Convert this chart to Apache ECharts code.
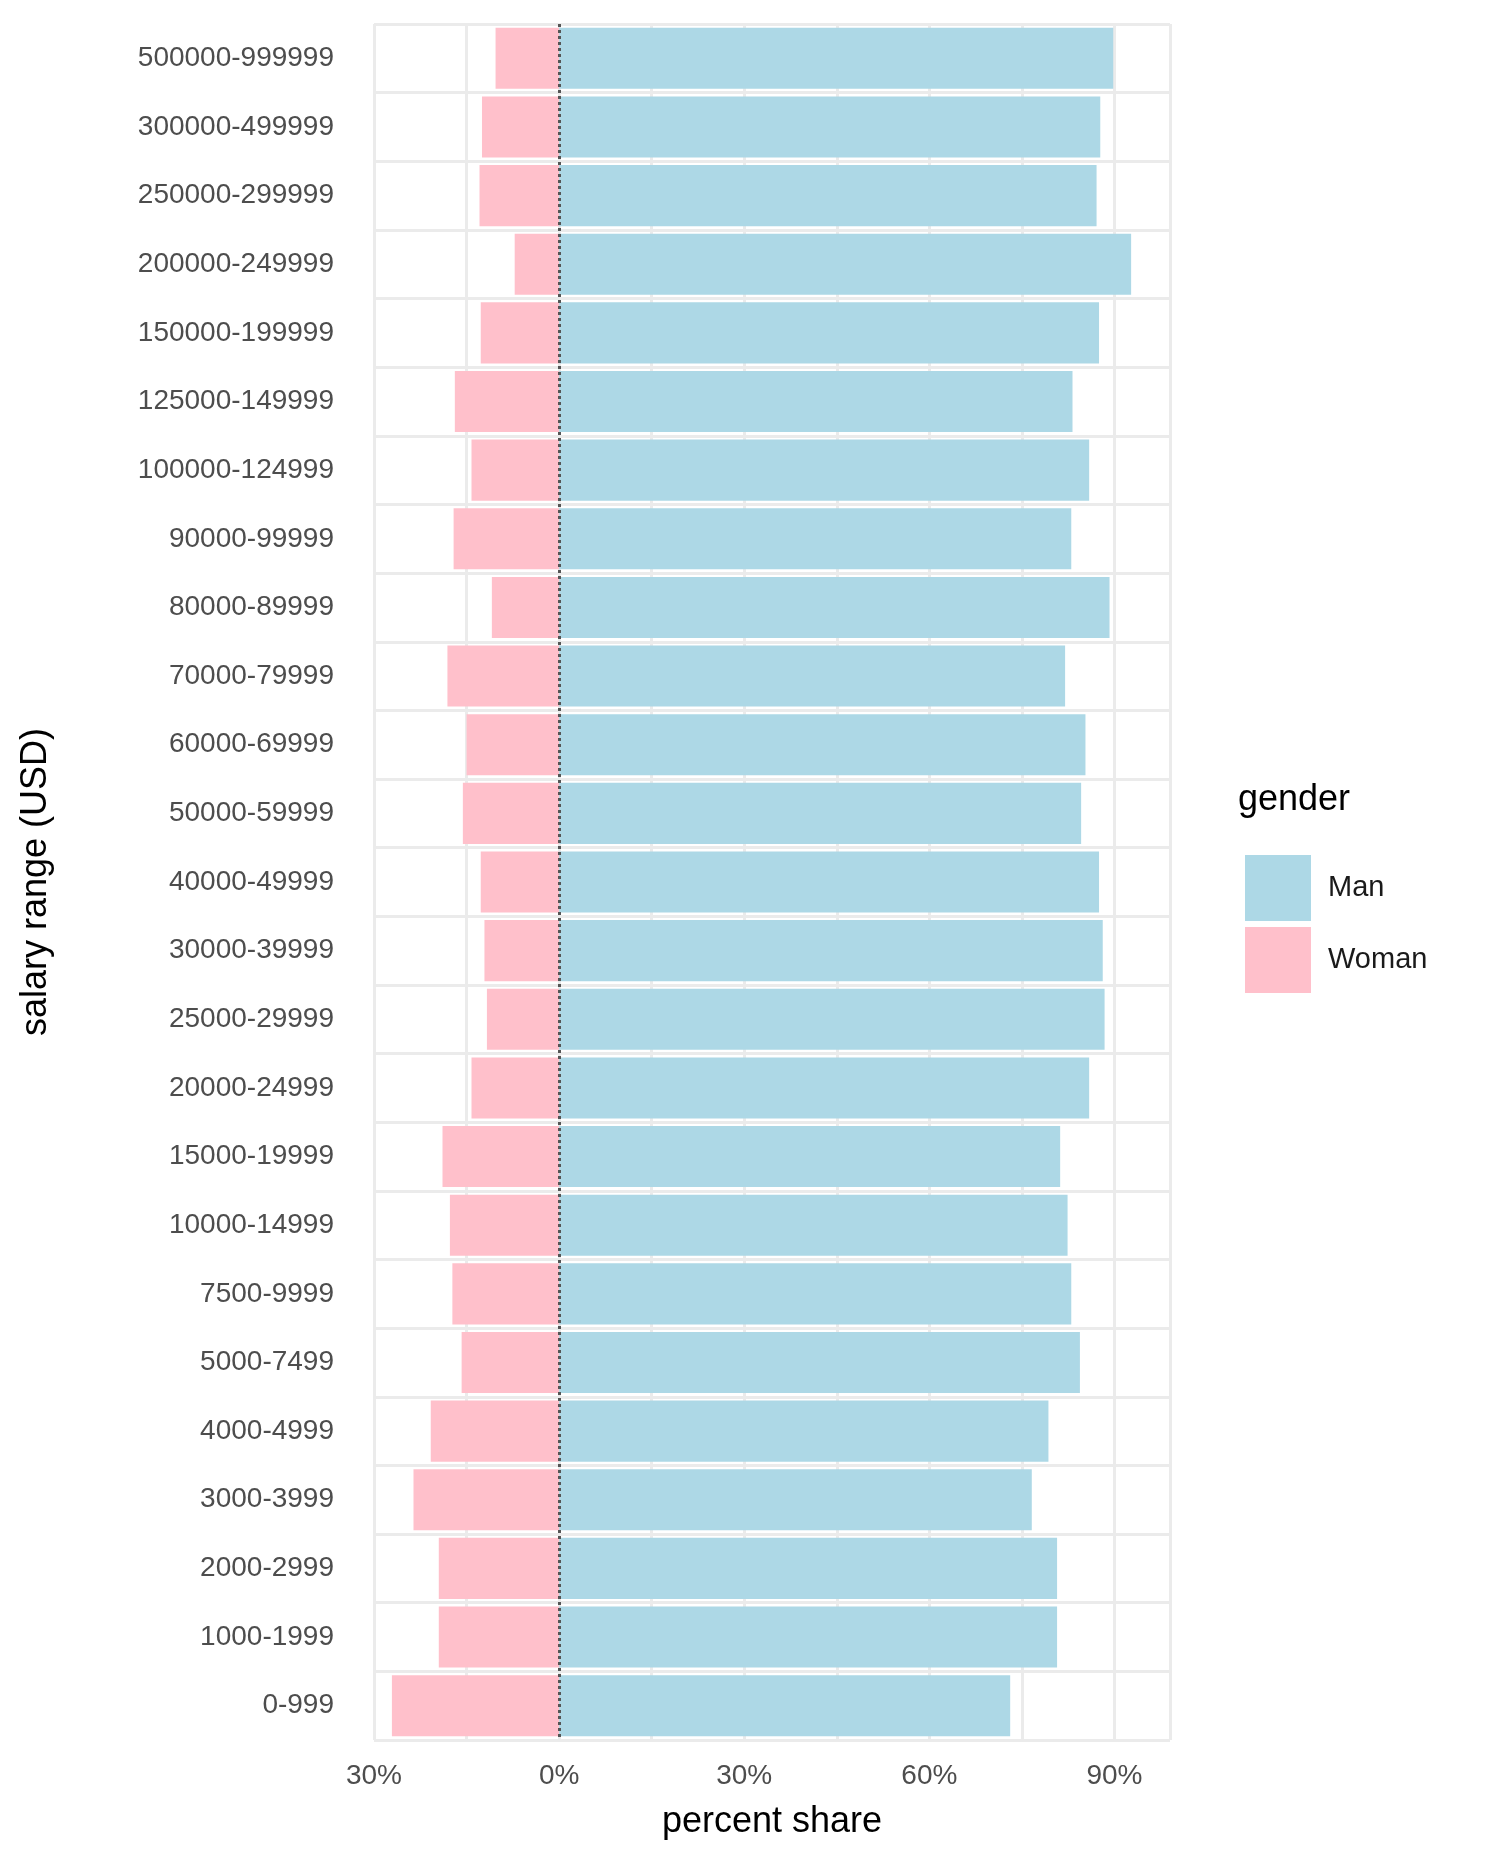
<!DOCTYPE html>
<html>
<head>
<meta charset="utf-8">
<script src="https://cdn.jsdelivr.net/npm/echarts@6/dist/echarts.min.js"></script>
<style>html,body{margin:0;padding:0;background:#fff}#chart{width:1500px;height:1875px}</style>
</head>
<body>
<div id="chart"></div>
<script>
const categories = ['500000-999999', '300000-499999', '250000-299999', '200000-249999', '150000-199999',
  '125000-149999', '100000-124999', '90000-99999', '80000-89999', '70000-79999', '60000-69999',
  '50000-59999', '40000-49999', '30000-39999', '25000-29999', '20000-24999', '15000-19999',
  '10000-14999', '7500-9999', '5000-7499', '4000-4999', '3000-3999', '2000-2999', '1000-1999', '0-999']
const manShare = [89.8, 87.7, 87.1, 92.7, 87.5, 83.2, 85.9, 83.0, 89.2, 82.0, 85.3, 84.6, 87.5,
  88.1, 88.4, 85.9, 81.2, 82.4, 83.0, 84.4, 79.3, 76.6, 80.7, 80.7, 73.1]
const womanShare = [10.3, 12.5, 12.9, 7.2, 12.7, 16.9, 14.2, 17.1, 10.9, 18.1, 15.0, 15.6, 12.7,
  12.1, 11.7, 14.2, 18.9, 17.7, 17.3, 15.8, 20.8, 23.6, 19.5, 19.5, 27.1]

const chart = echarts.init(document.getElementById('chart'))
const font = 'Liberation Sans'
chart.setOption({
  animation: false,
  textStyle: { fontFamily: font },
  grid: { left: 374, right: 330, top: 24, bottom: 135 },
  legend: {
    data: ['Man', 'Woman'], orient: 'vertical', left: 1240, top: 850,
    itemWidth: 66, itemHeight: 66, itemGap: 6, icon: 'rect',
    textStyle: { fontSize: 29, color: '#1a1a1a', padding: [0, 0, 0, 12] }
  },
  graphic: [{ type: 'text', left: 1238, top: 782, style: { text: 'gender', fontSize: 36, fill: '#000', fontFamily: font } }],
  xAxis: {
    type: 'value', min: -30, max: 99, interval: 15,
    name: 'percent share', nameLocation: 'middle', nameGap: 64,
    nameTextStyle: { fontSize: 36, color: '#000' },
    axisLine: { show: false }, axisTick: { show: false },
    axisLabel: {
      fontSize: 28, color: '#4d4d4d', margin: 22, showMaxLabel: false,
      formatter: v => (v % 30 === 0 ? Math.abs(v) + '%' : '')
    },
    splitLine: { lineStyle: { color: '#ebebeb', width: 3 } }
  },
  yAxis: {
    type: 'category', data: categories, inverse: true,
    name: 'salary range (USD)', nameLocation: 'middle', nameGap: 320,
    nameTextStyle: { fontSize: 36, color: '#000' },
    axisLine: { show: false }, axisTick: { show: false },
    axisLabel: { fontSize: 28, color: '#4d4d4d', margin: 40 },
    splitLine: { show: true, lineStyle: { color: '#ebebeb', width: 3 } }
  },
  series: [
    {
      name: 'Man', type: 'bar', stack: 'g', data: manShare, barCategoryGap: '11%',
      itemStyle: { color: '#ADD8E6' },
      markLine: {
        silent: true, symbol: 'none', label: { show: false },
        lineStyle: { type: 'dotted', color: '#555', width: 3 }, data: [{ xAxis: 0 }]
      }
    },
    {
      name: 'Woman', type: 'bar', stack: 'g', data: womanShare.map(v => -v),
      itemStyle: { color: '#FFC0CB' }
    }
  ]
})
</script>
</body>
</html>
